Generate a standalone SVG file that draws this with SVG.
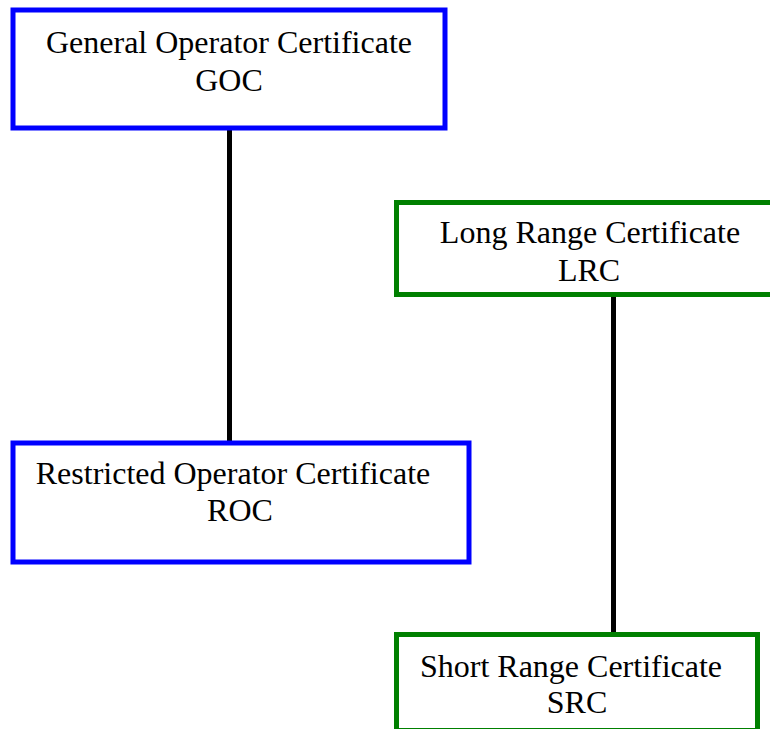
<svg xmlns="http://www.w3.org/2000/svg" width="770" height="729" viewBox="0 0 770 729">
<style>
.box{fill:#fff;stroke-width:5}
.blue{stroke:#0000ff}
.green{stroke:#008000}
.edge{stroke:#000;stroke-width:5}
text{font-family:"Liberation Serif","Times New Roman",serif;font-size:32px;fill:#000;text-anchor:middle}
</style>
<rect width="770" height="729" fill="#fff"/>
<g id="connectors">
<line class="edge" x1="229.5" y1="130" x2="229.5" y2="442"/>
<line class="edge" x1="613.5" y1="296" x2="613.5" y2="633"/>
</g>
<g id="goc">
<rect class="box blue" x="13" y="10" width="432" height="118"/>
<text x="229" y="53">General Operator Certificate</text>
<text x="229" y="90.5">GOC</text>
</g>
<g id="roc">
<rect class="box blue" x="13" y="443" width="456" height="119"/>
<text x="233" y="484">Restricted Operator Certificate</text>
<text x="240" y="521">ROC</text>
</g>
<g id="lrc">
<rect class="box green" x="396.5" y="202.5" width="380" height="92"/>
<text x="590" y="243">Long Range Certificate</text>
<text x="589" y="281">LRC</text>
</g>
<g id="src">
<rect class="box green" x="396.5" y="634.5" width="361" height="96"/>
<text x="571" y="677">Short Range Certificate</text>
<text x="577" y="713">SRC</text>
</g>
</svg>
